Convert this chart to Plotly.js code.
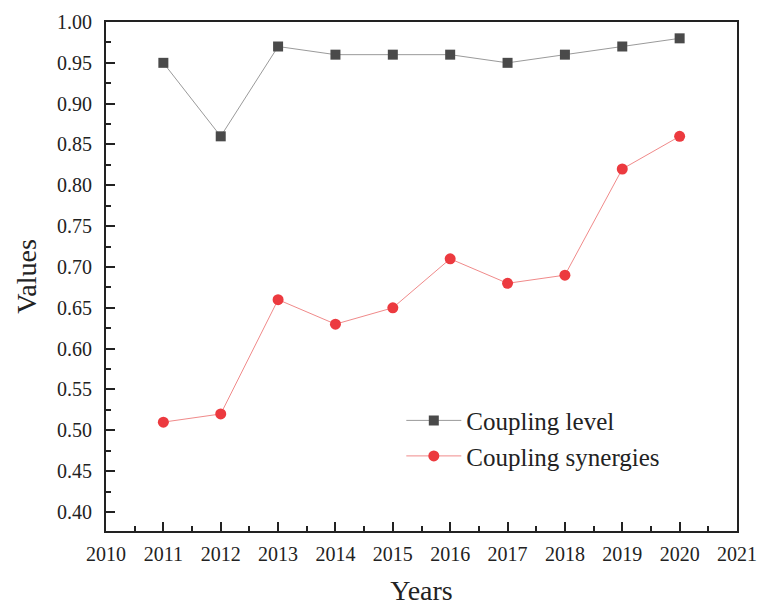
<!DOCTYPE html>
<html>
<head>
<meta charset="utf-8">
<script src="https://cdn.plot.ly/plotly-3.0.1.min.js"></script>
<style>html,body{margin:0;padding:0;background:#fff;}#chart{width:758px;height:606px;}</style>
</head>
<body>
<div id="chart"></div>
<script>
var years = [2011, 2012, 2013, 2014, 2015, 2016, 2017, 2018, 2019, 2020];
var couplingLevel = [0.95, 0.86, 0.97, 0.96, 0.96, 0.96, 0.95, 0.96, 0.97, 0.98];
var couplingSynergies = [0.51, 0.52, 0.66, 0.63, 0.65, 0.71, 0.68, 0.69, 0.82, 0.86];
var xTicks = [2010, 2011, 2012, 2013, 2014, 2015, 2016, 2017, 2018, 2019, 2020, 2021];
var yTicks = [0.40, 0.45, 0.50, 0.55, 0.60, 0.65, 0.70, 0.75, 0.80, 0.85, 0.90, 0.95, 1.00];

var serif = "Liberation Serif, Times New Roman, serif";

var traces = [
  {
    x: years, y: couplingLevel, name: "Coupling level", type: "scatter", mode: "lines+markers",
    line: {color: "#9a9a9a", width: 1},
    marker: {symbol: "square", size: 10, color: "#4a4a4a"}
  },
  {
    x: years, y: couplingSynergies, name: "Coupling synergies", type: "scatter", mode: "lines+markers",
    line: {color: "#f08a8a", width: 1},
    marker: {symbol: "circle", size: 11, color: "#ec3a3f"}
  }
];

var layout = {
  width: 758, height: 606,
  margin: {l: 106, r: 21, t: 22, b: 75},
  paper_bgcolor: "#fff", plot_bgcolor: "#fff",
  showlegend: true,
  legend: {x: 0.468, y: 0.262, xanchor: "left", yanchor: "top", bgcolor: "rgba(0,0,0,0)",
           font: {family: serif, size: 25, color: "#222"}, tracegroupgap: 0, itemwidth: 55},
  xaxis: {
    range: [2010, 2021], tickvals: xTicks, ticktext: xTicks.map(String),
    ticks: "inside", ticklen: 9, tickwidth: 2, tickcolor: "#222",
    minor: {dtick: 0.5, tick0: 2010.5, ticks: "inside", ticklen: 5, tickwidth: 2, tickcolor: "#222"},
    showline: true, linewidth: 2, linecolor: "#222", mirror: true,
    showgrid: false, zeroline: false,
    tickfont: {family: serif, size: 20, color: "#222"},
    ticklabelstandoff: 4,
    title: {text: "Years", font: {family: serif, size: 28, color: "#222"}, standoff: 16}
  },
  yaxis: {
    range: [0.3767, 1.0], tickvals: yTicks, ticktext: yTicks.map(function(v){return v.toFixed(2);}),
    ticks: "inside", ticklen: 9, tickwidth: 2, tickcolor: "#222",
    minor: {dtick: 0.025, tick0: 0.375, ticks: "inside", ticklen: 5, tickwidth: 2, tickcolor: "#222"},
    showline: true, linewidth: 2, linecolor: "#222", mirror: true,
    showgrid: false, zeroline: false,
    tickfont: {family: serif, size: 20, color: "#222"},
    ticklabelstandoff: 8,
    title: {text: "Values", font: {family: serif, size: 28, color: "#222"}, standoff: 12}
  }
};

Plotly.newPlot("chart", traces, layout, {displayModeBar: false, staticPlot: true});
</script>
</body>
</html>
